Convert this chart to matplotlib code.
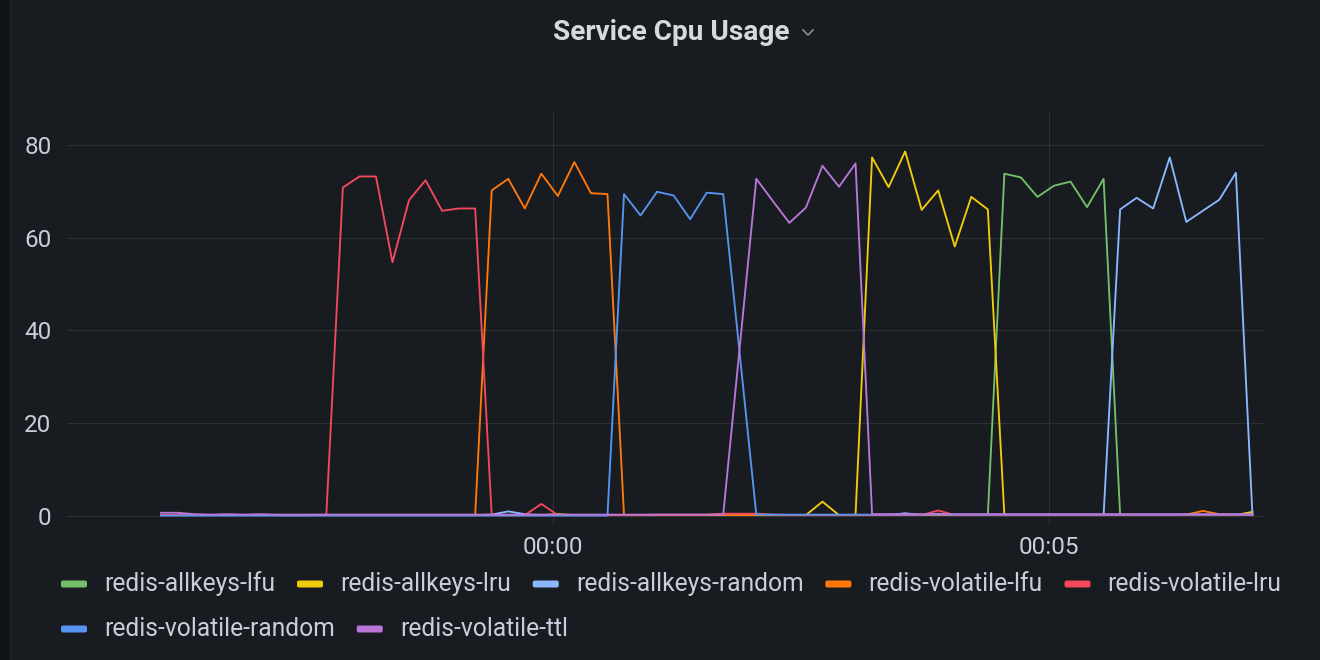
import numpy as np
import matplotlib.pyplot as plt
from matplotlib.lines import Line2D
from matplotlib.patches import Rectangle, FancyBboxPatch
from matplotlib.transforms import IdentityTransform

plt.rcParams['font.family'] = ['Roboto', 'DejaVu Sans']

nan = np.nan

# one scrape every 10 s, seconds relative to 00:00
times = np.arange(-237, 424, 10)

x_ticks = [0, 300]
x_tick_labels = ["00:00", "00:05"]
y_ticks = [0, 20, 40, 60, 80]

names = ["redis-allkeys-lfu", "redis-allkeys-lru", "redis-allkeys-random",
         "redis-volatile-lfu", "redis-volatile-lru", "redis-volatile-random",
         "redis-volatile-ttl"]
colors = ["#73BF69", "#F2CC0C", "#8AB8FF", "#FF780A", "#F2495C", "#5794F2", "#B877D9"]

allkeys_lfu = [0.2, 0.2, 0.2, 0.2, 0.2, 0.2, 0.2, 0.2, 0.2, 0.2,
               0.2, 0.2, 0.2, 0.2, 0.2, 0.2, 0.2, 0.2, 0.2, 0.2,
               0.2, 0.2, 0.2, 0.2, 0.2, 0.2, 0.2, 0.2, 0.2, 0.2,
               0.2, 0.2, 0.2, 0.2, 0.2, nan, 0.2, 0.2, 0.2, 0.2,
               0.2, 0.2, 0.2, 0.2, 0.2, 0.2, 0.2, 0.2, 0.2, 0.2,
               0.2, 73.8, 73.0, 68.8, 71.2, 72.1, 66.6, 72.7, 0.2, 0.2,
               0.2, 0.2, 0.2, 0.2, 0.2, 0.2, 0.2]
allkeys_lru = [0.2, 0.2, 0.2, 0.2, 0.2, 0.2, 0.2, 0.2, 0.2, 0.2,
               0.2, 0.2, 0.2, 0.2, 0.2, 0.2, 0.2, 0.2, 0.2, 0.2,
               0.2, 0.2, 0.2, 0.2, 0.4, 0.2, 0.2, 0.2, 0.2, 0.2,
               0.2, 0.2, 0.2, 0.2, 0.2, nan, 0.2, 0.2, 0.2, 0.2,
               3.1, 0.2, 0.2, 77.3, 70.9, 78.6, 66.0, 70.2, 58.1, 68.8,
               66.1, 0.2, 0.2, 0.2, 0.2, 0.2, 0.2, 0.2, 0.2, 0.2,
               0.2, 0.2, 0.2, 0.2, 0.2, 0.2, 0.9]
allkeys_random = [0.2, 0.2, 0.2, 0.2, 0.2, 0.2, 0.2, 0.2, 0.2, 0.2,
                  0.2, 0.2, 0.2, 0.2, 0.2, 0.2, 0.2, 0.2, 0.2, 0.2,
                  0.3, 1.0, 0.4, 0.2, 0.2, 0.2, 0.2, 0.2, 0.2, 0.2,
                  0.2, 0.2, 0.2, 0.2, 0.2, nan, 0.2, 0.2, 0.2, 0.2,
                  0.2, 0.2, 0.2, 0.2, 0.2, 0.6, 0.2, 0.5, 0.2, 0.2,
                  0.2, 0.2, 0.2, 0.2, 0.2, 0.2, 0.2, 0.2, 66.1, 68.6,
                  66.3, 77.3, 63.4, 65.8, 68.2, 74.0, 0.3]
volatile_lfu = [0.2, 0.2, 0.2, 0.2, 0.2, 0.2, 0.2, 0.2, 0.2, 0.2,
                0.2, 0.2, 0.2, 0.2, 0.2, 0.2, 0.2, 0.2, 0.2, 0.2,
                70.2, 72.7, 66.3, 73.8, 69.0, 76.3, 69.6, 69.4, 0.2, 0.2,
                0.2, 0.2, 0.2, 0.2, 0.2, nan, 0.2, 0.2, 0.2, 0.2,
                0.2, 0.2, 0.2, 0.2, 0.2, 0.2, 0.2, 0.2, 0.2, 0.2,
                0.2, 0.2, 0.2, 0.2, 0.2, 0.2, 0.2, 0.2, 0.2, 0.2,
                0.2, 0.2, 0.3, 1.1, 0.4, 0.2, 0.4]
volatile_lru = [0.2, 0.2, 0.2, 0.2, 0.2, 0.2, 0.2, 0.2, 0.2, 0.2,
                0.3, 70.8, 73.2, 73.2, 54.7, 68.1, 72.4, 65.8, 66.3, 66.3,
                0.2, 0.2, 0.2, 2.6, 0.2, 0.2, 0.2, 0.2, 0.2, 0.2,
                0.3, 0.3, 0.3, 0.3, 0.5, nan, 0.5, 0.3, 0.2, 0.2,
                0.2, 0.2, 0.2, 0.2, 0.2, 0.2, 0.2, 1.2, 0.2, 0.2,
                0.2, 0.2, 0.2, 0.2, 0.2, 0.2, 0.2, 0.2, 0.2, 0.2,
                0.2, 0.2, 0.2, 0.2, 0.2, 0.2, 0.2]
volatile_random = [0.1, 0.1, 0.1, 0.1, 0.1, 0.1, 0.1, 0.1, 0.1, 0.1,
                   0.1, 0.1, 0.1, 0.1, 0.1, 0.1, 0.1, 0.1, 0.1, 0.1,
                   0.1, 0.1, 0.1, 0.1, 0.1, 0.1, 0.1, 0.1, 69.4, 64.8,
                   69.9, 69.1, 64.0, 69.7, 69.4, nan, 0.3, 0.3, 0.3, 0.3,
                   0.3, 0.3, 0.3, 0.3, 0.3, 0.3, 0.3, 0.3, 0.3, 0.3,
                   0.3, 0.3, 0.3, 0.3, 0.3, 0.3, 0.3, 0.3, 0.3, 0.3,
                   0.3, 0.3, 0.3, 0.3, 0.3, 0.3, 0.3]
volatile_ttl = [0.7, 0.7, 0.4, 0.3, 0.4, 0.3, 0.4, 0.3, 0.3, 0.3,
                0.3, 0.3, 0.3, 0.3, 0.3, 0.3, 0.3, 0.3, 0.3, 0.3,
                0.3, 0.3, 0.3, 0.3, 0.3, 0.3, 0.3, 0.3, 0.3, 0.3,
                0.3, 0.3, 0.3, 0.3, 0.3, nan, 72.7, 67.9, 63.2, 66.5,
                75.5, 71.0, 76.0, 0.4, 0.4, 0.4, 0.4, 0.4, 0.4, 0.4,
                0.4, 0.4, 0.4, 0.4, 0.4, 0.4, 0.4, 0.4, 0.4, 0.4,
                0.4, 0.4, 0.4, 0.4, 0.4, 0.4, 0.4]

series = [allkeys_lfu, allkeys_lru, allkeys_random, volatile_lfu,
          volatile_lru, volatile_random, volatile_ttl]

bg = "#181b1f"
text_col = "#ccccdc"
grid_col = "#2c2f34"

W, H = 1320, 660


def fx(x):
    return x / W


def fy(y):
    return 1 - y / H


fig = plt.figure(figsize=(13.2, 6.6), dpi=100, facecolor=bg)

# dark strip on the left edge of the panel
fig.patches.append(Rectangle((0, 0), fx(10), 1, transform=fig.transFigure,
                             facecolor="#111217", edgecolor="none"))
fig.lines.append(Line2D([fx(10.5), fx(10.5)], [0, 1], transform=fig.transFigure,
                        color="#24272c", lw=0.8))

ax = fig.add_axes([fx(66.7), fy(524), fx(1264 - 66.7), (524 - 112) / H])
ax.set_facecolor(bg)

for vals, name, col in zip(series, names, colors):
    v = np.array(vals, dtype=float)
    ok = ~np.isnan(v)
    ax.plot(times[ok], v[ok], color=col, lw=1.35, label=name)

ax.set_xlim(-294, 430)
ax.set_ylim(-1.72, 87.1)
ax.set_xticks(x_ticks)
ax.set_xticklabels(x_tick_labels)
ax.set_yticks(y_ticks)
ax.grid(True, color=grid_col, lw=0.8)
ax.set_axisbelow(True)
for s in ax.spines.values():
    s.set_visible(False)
ax.tick_params(length=0, colors=text_col, labelsize=17.5)
ax.tick_params(axis="y", pad=11)
ax.tick_params(axis="x", pad=9)

# title with dropdown chevron
fig.text(fx(671), fy(32), "Service Cpu Usage", ha="center", va="center",
         fontsize=20.2, fontweight="semibold", color="#d8d9da")
fig.lines.append(Line2D([fx(803), fx(808), fx(813)], [fy(30), fy(35), fy(30)],
                        transform=fig.transFigure, color="#8e8e99", lw=1.2))

# legend, laid out as a flow like grafana does
renderer = fig.canvas.get_renderer()
x, y = 61, 584
for name, col in zip(names, colors):
    t = fig.text(0, 0, name, ha="left", va="center", fontsize=17.7, color=text_col)
    tw = t.get_window_extent(renderer).width
    if x + 43 + tw > 1305:
        x = 61
        y += 45
    box = FancyBboxPatch((x, H - y - 3.5), 26, 7, boxstyle="round,pad=0,rounding_size=2",
                         transform=IdentityTransform(), facecolor=col, edgecolor="none")
    fig.patches.append(box)
    t.set_position((fx(x + 43), fy(y)))
    x += 43 + tw + 22

fig.savefig("out.png", dpi=100, facecolor=bg)
